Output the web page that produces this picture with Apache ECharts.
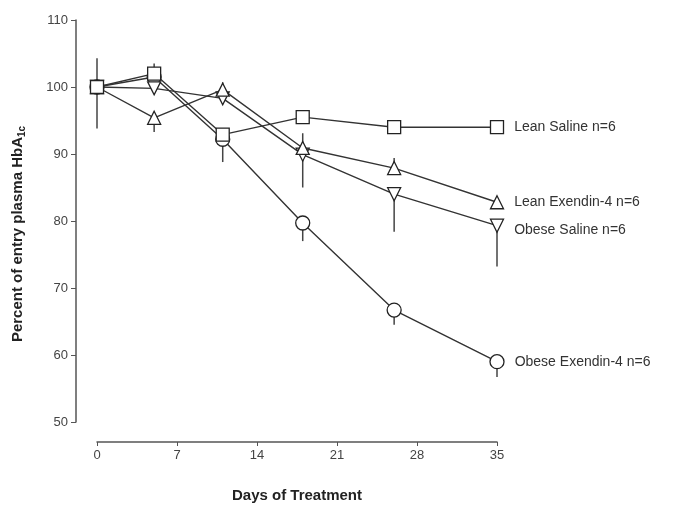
<!DOCTYPE html>
<html><head><meta charset="utf-8">
<script src="https://cdn.jsdelivr.net/npm/echarts@6/dist/echarts.min.js"></script>
<style>html,body{margin:0;padding:0;background:#fff}#c{width:684px;height:508px}</style>
</head><body><div id="c"></div>
<script>
const days = [0, 5, 11, 18, 26, 35];
const xTicks = [0, 7, 14, 21, 28, 35];
const yTicks = [50, 60, 70, 80, 90, 100, 110];

const seriesNames = ['Lean Saline n=6', 'Lean Exendin-4 n=6', 'Obese Saline n=6', 'Obese Exendin-4 n=6'];
const leanSaline = [100, 102.0, 92.9, 95.5, 94.0, 94.0];
const leanExendin = [100, 95.4, 99.6, 90.9, 87.9, 82.8];
const obeseSaline = [100, 99.8, 98.3, 89.9, 84.0, 79.3];
const obeseExendin = [100, 101.5, 92.2, 79.7, 66.7, 59.0];

const leanSalineErrUp = [0, 1.5, 0, 0, 0, 0];
const leanSalineErrDown = [0, 0, 0, 0, 0, 0];
const leanExendinErrUp = [0, 0, 0, 0, 1.5, 0];
const leanExendinErrDown = [0, 2.1, 0, 0, 0, 0];
const obeseSalineErrUp = [4.3, 0, 2.4, 3.2, 0, 0];
const obeseSalineErrDown = [6.2, 0, 0, 4.9, 5.6, 6.1];
const obeseExendinErrUp = [0, 0, 0, 0, 0, 0];
const obeseExendinErrDown = [0, 0, 3.4, 2.7, 2.2, 2.3];

const allValues = [leanSaline, leanExendin, obeseSaline, obeseExendin];
const allUp = [leanSalineErrUp, leanExendinErrUp, obeseSalineErrUp, obeseExendinErrUp];
const allDown = [leanSalineErrDown, leanExendinErrDown, obeseSalineErrDown, obeseExendinErrDown];
const symbols = ['rect', 'triangle', 'path://M0,0 L10,0 L5,10 Z', 'circle'];
const labelOffsets = [[0, 0], [0, 0], [0, 4], [0, 0]];
const zOrder = [6, 5, 4, 3];
const FONT = 'Liberation Sans, Arial, sans-serif';

const chart = echarts.init(document.getElementById('c'), null, {renderer: 'canvas'});
const series = [];
allValues.forEach((vals, si) => {
  series.push({
    type: 'custom',
    z: 1,
    silent: true,
    renderItem: function (params, api) {
      const x = api.value(0), y = api.value(1), up = api.value(2), dn = api.value(3);
      const top = api.coord([x, y + up]);
      const bot = api.coord([x, y - dn]);
      return {type: 'line', shape: {x1: top[0], y1: top[1], x2: bot[0], y2: bot[1]},
        style: {stroke: '#444', lineWidth: 1.5}};
    },
    data: days.map((d, i) => [d, vals[i], allUp[si][i], allDown[si][i]])
  });
});
allValues.forEach((vals, si) => {
  series.push({
    name: seriesNames[si],
    type: 'line',
    z: zOrder[si],
    symbol: symbols[si],
    symbolSize: si === 3 ? 14 : 13,
    showAllSymbol: true,
    lineStyle: {color: '#333', width: 1.4},
    itemStyle: {color: '#fff', borderColor: '#222', borderWidth: 1.3},
    data: days.map((d, i) => {
      const p = {value: [d, vals[i]]};
      if (i === days.length - 1) {
        p.label = {show: true, position: 'right', distance: 10, offset: labelOffsets[si],
          formatter: seriesNames[si], fontFamily: FONT, fontSize: 14, color: '#333'};
      }
      return p;
    })
  });
});

chart.setOption({
  animation: false,
  backgroundColor: '#fff',
  grid: {left: 97, right: 187, top: 20, bottom: 86},
  xAxis: {
    type: 'value', min: 0, max: 35, interval: 7, offset: 20,
    name: 'Days of Treatment', nameLocation: 'middle', nameGap: 46,
    nameTextStyle: {fontFamily: FONT, fontWeight: 'bold', fontSize: 15, color: '#222'},
    axisLine: {show: true, onZero: false, lineStyle: {color: '#555', width: 1.5}},
    axisTick: {show: true, length: 4, lineStyle: {color: '#555'}},
    axisLabel: {fontFamily: FONT, fontSize: 13, color: '#444', margin: 7,
      formatter: v => xTicks.includes(v) ? String(v) : ''},
    splitLine: {show: false}
  },
  yAxis: {
    type: 'value', min: 50, max: 110, interval: 10, offset: 21,
    name: 'Percent of entry plasma HbA{sub|1c}', nameLocation: 'middle', nameGap: 49,
    nameTextStyle: {fontFamily: FONT, fontWeight: 'bold', fontSize: 15, color: '#222',
      padding: [0, 26, 0, 0],
      rich: {sub: {fontFamily: FONT, fontWeight: 'bold', fontSize: 10, color: '#222', padding: [8, 0, 0, 0]}}},
    axisLine: {show: true, onZero: false, lineStyle: {color: '#555', width: 1.5}},
    axisTick: {show: true, length: 5, lineStyle: {color: '#555'}},
    axisLabel: {fontFamily: FONT, fontSize: 13, color: '#444', margin: 8,
      formatter: v => yTicks.includes(v) ? String(v) : ''},
    splitLine: {show: false}
  },
  series: series
});
</script></body></html>
